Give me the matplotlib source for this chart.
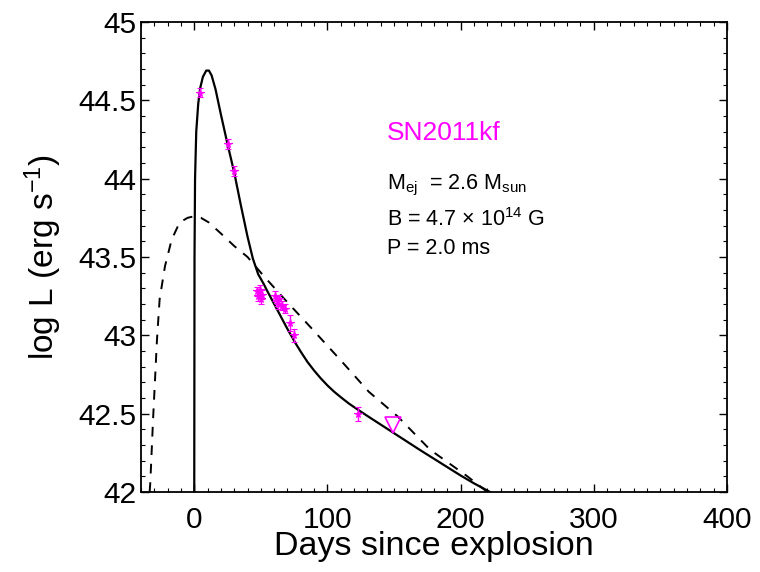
import matplotlib
matplotlib.use('Agg')
import matplotlib.pyplot as plt
from matplotlib.ticker import MultipleLocator

plt.rcParams['font.family'] = ['Liberation Sans', 'DejaVu Sans']
plt.rcParams['mathtext.default'] = 'regular'

# observed points (days since explosion, log L, error)
obs_days = [4.5, 25.4, 30, 47, 48, 49, 50, 51, 61, 62, 63, 64, 66, 68, 72, 75, 122.6]
obs_logL = [44.55, 44.22, 44.05, 43.28, 43.25, 43.29, 43.23, 43.26,
            43.25, 43.22, 43.20, 43.23, 43.19, 43.17, 43.08, 43.00, 42.50]
obs_err = [0.03, 0.03, 0.03, 0.03, 0.03, 0.03, 0.03, 0.03,
           0.03, 0.03, 0.03, 0.03, 0.03, 0.03, 0.05, 0.04, 0.045]

# upper limit
lim_days = [149]
lim_logL = [42.43]

# magnetar model (solid)
mag_days = [0, 0.2, 0.6, 1.5, 3, 4.5, 6.5, 9, 11, 13, 16, 20, 25, 30, 35, 40,
            44, 48, 52, 55, 60, 65, 70, 76, 80, 85, 90, 95, 100, 105, 110,
            116, 122, 130, 140, 150, 160, 170, 185, 200, 210, 222]
mag_logL = [42.0, 43.5, 44.0, 44.3, 44.48, 44.58, 44.65, 44.69, 44.69, 44.66,
            44.57, 44.41, 44.22, 44.04, 43.83, 43.63, 43.49, 43.39, 43.33,
            43.28, 43.20, 43.12, 43.04, 42.95, 42.895, 42.83, 42.775, 42.725,
            42.68, 42.64, 42.605, 42.565, 42.53, 42.485, 42.43, 42.375,
            42.32, 42.265, 42.185, 42.105, 42.055, 42.0]

# second model (dashed)
ni_days = [-33.5, -33, -31, -28, -26, -22, -17, -11, -5, 0, 5, 11, 20, 30, 40,
           52, 70, 87.5, 110, 131, 153, 177, 205, 220]
ni_logL = [42.0, 42.06, 42.45, 42.97, 43.23, 43.44, 43.61, 43.72, 43.75,
           43.76, 43.75, 43.72, 43.65, 43.57, 43.50, 43.38, 43.21, 43.05,
           42.84, 42.64, 42.48, 42.27, 42.10, 42.0]

fig = plt.figure(figsize=(7.6, 5.72), dpi=100)
ax = fig.add_axes([0.1855, 0.140, 0.771, 0.8215])

ax.plot(mag_days, mag_logL, color='black', lw=1.6)
ax.plot(ni_days, ni_logL, color='black', lw=1.4, linestyle=(0, (5, 4.5)))
ax.errorbar(obs_days, obs_logL, yerr=obs_err, fmt='*', color='magenta',
            ms=5.5, capsize=2, elinewidth=1, mew=0.8)
ax.plot(lim_days, lim_logL, 'v', mfc='none', mec='magenta', ms=12, mew=1.2)

ax.set_xlim(-40, 400)
ax.set_ylim(42, 45)
ax.xaxis.set_major_locator(MultipleLocator(100))
ax.xaxis.set_minor_locator(MultipleLocator(10))
ax.yaxis.set_major_locator(MultipleLocator(0.5))
ax.yaxis.set_minor_locator(MultipleLocator(0.1))
ax.set_yticks([42, 42.5, 43, 43.5, 44, 44.5, 45])
ax.set_yticklabels(['42', '42.5', '43', '43.5', '44', '44.5', '45'])
ax.tick_params(which='both', direction='in', top=True, right=True, labelsize=21.5)
ax.tick_params(which='major', length=6, width=1)
ax.tick_params(which='minor', length=3, width=0.8)
ax.tick_params(axis='x', which='major', pad=10)
for s in ax.spines.values():
    s.set_linewidth(1.3)

ax.set_xlabel('Days since explosion', fontsize=24.5, labelpad=-2)
ax.set_ylabel('log L (erg s$^{-1}$)', fontsize=24, labelpad=10)

ax.text(0.42, 0.764, 'SN2011kf', transform=ax.transAxes, color='magenta',
        fontsize=19, va='center', ha='left')
ax.text(0.42, 0.653, 'M$_{ej}$  = 2.6 M$_{sun}$', transform=ax.transAxes,
        fontsize=15.5, va='center', ha='left')
ax.text(0.42, 0.579, 'B = 4.7 $\\times$ 10$^{14}$ G', transform=ax.transAxes,
        fontsize=15.5, va='center', ha='left')
ax.text(0.42, 0.519, 'P = 2.0 ms', transform=ax.transAxes,
        fontsize=15.5, va='center', ha='left')

fig.savefig('out.png', dpi=100)
